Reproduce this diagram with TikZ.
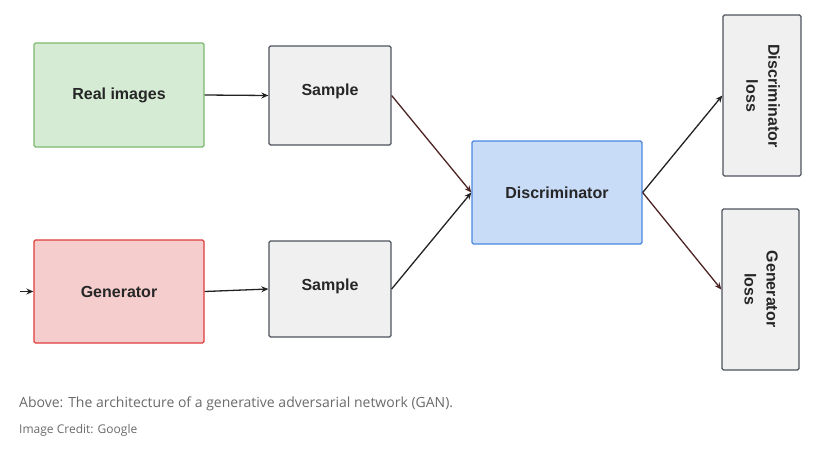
\documentclass[tikz,border=0pt]{standalone}
\usepackage{fontspec}
\setmainfont{Liberation Sans}
\newfontfamily\capfont{Open Sans}
\usetikzlibrary{arrows.meta}
\definecolor{txt}{HTML}{262626}
\definecolor{greenfill}{HTML}{D5EBD3}
\definecolor{greenline}{HTML}{7DB870}
\definecolor{redfill}{HTML}{F5CDCD}
\definecolor{redline}{HTML}{E03C3C}
\definecolor{grayfill}{HTML}{F0F0F0}
\definecolor{grayline}{HTML}{4E535C}
\definecolor{bluefill}{HTML}{C8DBF7}
\definecolor{blueline}{HTML}{4A88E0}
\definecolor{wire}{HTML}{222222}
\definecolor{wirered}{HTML}{4C2424}
\definecolor{captxt}{HTML}{6A6A6A}
\tikzset{
  box/.style={draw, line width=1.3pt, rounded corners=1.5pt, inner sep=0pt},
  lbl/.style={font=\fontsize{16}{22}\selectfont\bfseries, text=txt, align=center},
  conn/.style={line width=1.3pt, -{Stealth[length=7pt,width=6pt]}},
}
\begin{document}
\begin{tikzpicture}[x=1pt,y=-1pt]
\useasboundingbox (0,0) rectangle (816,448);
\node[box, fill=greenfill, draw=greenline, minimum width=170pt, minimum height=104pt] (real) at (119,95) {};
\node[lbl] (realt) at (real) {Real images};
\node[box, fill=redfill, draw=redline, minimum width=170pt, minimum height=103pt] (gen) at (119,291.5) {};
\node[lbl] (gent) at (gen) {Generator};
\node[box, fill=grayfill, draw=grayline, minimum width=122pt, minimum height=99pt] (s1) at (330,95.5) {};
\node[lbl] (s1t) at (330,91) {Sample};
\node[box, fill=grayfill, draw=grayline, minimum width=122pt, minimum height=96pt] (s2) at (330,289) {};
\node[lbl] (s2t) at (330,286) {Sample};
\node[box, fill=bluefill, draw=blueline, minimum width=170pt, minimum height=103pt] (disc) at (557,192.5) {};
\node[lbl] (disct) at (disc) {Discriminator};
\node[box, fill=grayfill, draw=grayline, minimum width=78pt, minimum height=161pt] (dl) at (762,95.5) {};
\node[lbl, rotate=-90] (dlt) at (763,96) {Discriminator\\loss};
\node[box, fill=grayfill, draw=grayline, minimum width=77pt, minimum height=161pt] (gl) at (760.5,289.5) {};
\node[lbl, rotate=-90] (glt) at (761,289) {Generator\\loss};
\coordinate (inp) at (20,291.5);
\draw[conn, draw=wire] (real.east) -- (s1.west);
\draw[conn, draw=wire] (gen.east) -- (s2.west);
\draw[conn, draw=wire] (inp) -- (gen.west);
\draw[conn, draw=wirered] (s1.east) -- (disc.west);
\draw[conn, draw=wire] (s2.east) -- (disc.west);
\draw[conn, draw=wire] (disc.east) -- (dl.west);
\draw[conn, draw=wirered] (disc.east) -- (gl.west);
\node[anchor=west, inner sep=0pt, text=captxt, font=\capfont\fontsize{14}{16}\selectfont] (cap) at (19,404) {Above: The architecture of a generative adversarial network (GAN).};
\node[anchor=west, inner sep=0pt, text=captxt, font=\capfont\fontsize{12}{14}\selectfont] (cred) at (19,430) {Image Credit: Google};
\end{tikzpicture}
\end{document}
